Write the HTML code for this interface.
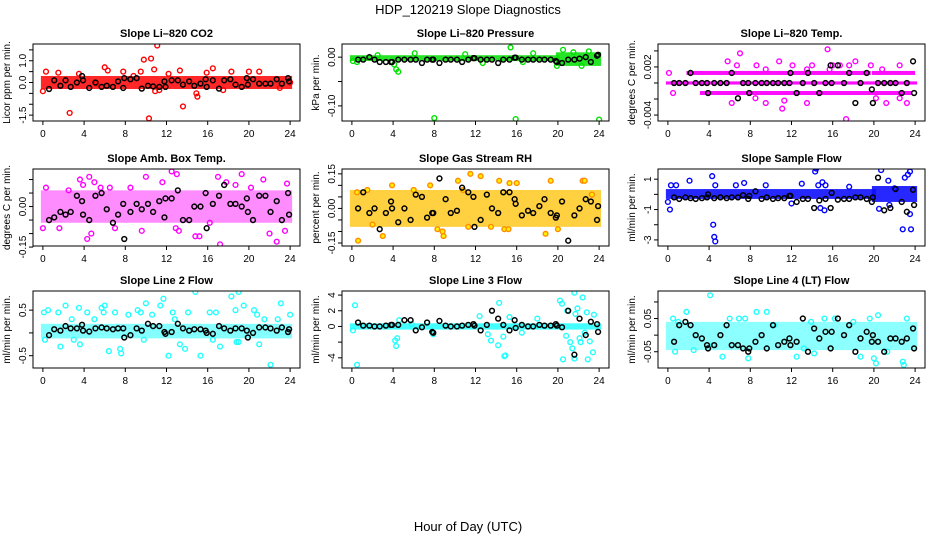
<!DOCTYPE html>
<html><head><meta charset="utf-8"><style>
html,body{margin:0;padding:0;background:#fff;}
svg{display:block;font-family:"Liberation Sans",sans-serif;}
</style></head><body>
<svg id="chart" width="936" height="540" viewBox="0 0 936 540">
<text x="468" y="14" text-anchor="middle" font-size="13">HDP_120219  Slope Diagnostics</text>
<text x="468" y="531" text-anchor="middle" font-size="13">Hour of Day (UTC)</text>
</svg>
<script>
// shared hours for black (hourly) points
const blackHours = [0.6,1.1,1.7,2.2,2.7,3.3,3.8,3.9,4.5,5.1,5.7,6.2,6.8,7.3,7.8,7.9,8.5,9.1,9.6,10.2,10.7,11.3,11.8,11.9,12.5,13.1,13.6,14.2,14.7,15.3,15.8,15.9,16.5,17.1,17.6,18.2,18.7,19.3,19.8,19.9,20.4,21.0,21.6,22.1,22.7,23.2,23.8,23.9];
const xTicks = [0,4,8,12,16,20,24];

const titles = ["Slope Li\u2013820 CO2","Slope Li\u2013820 Pressure","Slope Li\u2013820 Temp.","Slope Amb. Box Temp.","Slope Gas Stream RH","Slope Sample Flow","Slope Line 2 Flow","Slope Line 3 Flow","Slope Line 4 (LT) Flow"];
const yTitles = ["Licor ppm per min.","kPa per min.","degrees C per min.","degrees C per min.","percent per min.","ml/min per min.","ml/min per min.","ml/min per min.","ml/min per min."];
const yLims = [[-1.77,1.77],[-0.131,0.027],[-0.00474,0.00486],[-0.146,0.139],[-0.163,0.171],[-3.4,1.67],[-0.77,0.92],[-5.3,4.52],[-0.099,0.133]];
const yTicks = [[-1.5,-1,-0.5,0,0.5,1,1.5],[-0.1,-0.05,0],[-0.004,-0.002,0,0.002,0.004],[-0.15,-0.1,-0.05,0,0.05,0.1],[-0.15,-0.1,-0.05,0,0.05,0.1,0.15],[-3,-2,-1,0,1],[-0.5,0,0.5],[-4,-2,0,2,4],[-0.05,0,0.05,0.1]];
const yTickLabels = [["-1.5","","","0.0","","1.0",""],["-0.10","","0.00"],["-0.004","","","0.002",""],["-0.15","","","0.00","",""],["-0.15","","","0.00","","","0.15"],["-3","","-1","","1"],["-0.5","","0.5"],["-4","","0","2","4"],["-0.05","","0.05",""]];
const colors = ["#ff0000","#00e000","#ff00ff","#ff00ff","#ff8c00","#0000ff","#22ffff","#22ffff","#22ffff"];
const bandFill = ["#ff1010","#10e010","#ff00ff","#ff40ff","#ffc000","#1010ff","#40ffff","#30ffff","#40ffff"];
const bandOpacity = [0.9,0.9,0.95,0.6,0.75,0.9,0.65,0.9,0.6];
const bands = [
 [[0,24,-0.3,0.3]],
 [[0,20,-0.008,0.004],[20,24,-0.018,0.01]],
 [[0,24,-0.0002,0.0002],[2,19.5,0.001,0.0015],[3.3,23.5,-0.0015,-0.001],[20,23.8,0.001,0.0015]],
 [[0,24,-0.06,0.06]],
 [[0,24,-0.08,0.08]],
 [[0,20,-0.3,0.35],[20,24,-0.5,0.55]],
 [[0,24,-0.12,0.2]],
 [[0,24,-0.4,0.4]],
 [[0,24,-0.045,0.04]]
];
const colorPts = [
 [[0,-0.4],[0.3,0.5],[1.5,0.45],[2.6,-1.4],[3.5,0.4],[5.2,-0.05],[6.0,0.7],[6.3,0.55],[7.8,0.5],[8.8,0.3],[9.5,0.5],[9.8,1.05],[10.3,-1.65],[10.5,1.1],[10.8,0.6],[10.9,-0.4],[11.1,1.7],[11.3,-0.35],[12.2,0.4],[13.3,0.55],[13.6,-1.1],[14.9,-0.5],[15.0,-0.65],[15.9,0.45],[16.5,0.65],[17.5,-0.35],[18.3,0.5],[20.0,0.5],[21.0,0.5],[23.0,-0.25],[24,0.0]],
 [[0.1,-0.008],[0.5,-0.01],[4.1,-0.015],[4.3,-0.025],[4.5,-0.03],[6.1,0.008],[8.0,-0.125],[15.4,0.02],[15.9,-0.127],[17.6,0.008],[20.5,0.015],[21.5,0.01],[22.3,-0.018],[23.0,0.012],[24.0,-0.128],[2.5,0.004],[12.7,-0.012],[19.9,-0.018],[16.6,-0.01],[11,0.006]],
 [[0.1,0.00125],[5.8,0.0027],[6.7,0.0022],[7.0,0.0037],[8.6,0.0022],[9.5,0.0017],[10.8,0.0027],[12.1,0.0022],[14,0.0022],[13.5,0.0017],[15.5,0.0042],[15.7,0.0017],[16.7,0.0022],[17.6,0.0022],[18.2,0.0027],[19.7,0.0022],[20.8,0.0017],[22.5,0.0022],[11.1,-0.0032],[17.3,-0.0045],[9.5,-0.0025],[11.3,-0.0022],[21.2,-0.0025],[23.2,-0.0025],[6.2,-0.0025],[13.5,-0.0025],[16,0.0022],[0.5,-0.00125],[8.5,-0.0019],[20.2,-0.0019],[22.5,-0.0019]],
 [[0,-0.08],[0.3,0.07],[4.5,0.11],[3.6,0.1],[3.9,0.08],[5.0,0.09],[5.6,0.07],[4.3,-0.12],[4.7,-0.1],[10.0,0.11],[11.6,0.09],[12.5,0.13],[13.0,0.12],[13.2,-0.09],[12.9,-0.08],[14.8,-0.11],[15.2,-0.11],[17.2,-0.14],[17.0,0.11],[17.8,0.09],[19.3,0.12],[20.2,0.07],[21.4,0.1],[22.0,-0.1],[22.7,-0.13],[23.5,-0.09],[23.7,0.085],[7.0,-0.08],[9.6,-0.09],[1.6,-0.08],[8.5,0.07],[18.7,0.08],[2.5,0.06],[6.5,0.07],[16.2,-0.06]],
 [[0.5,0.07],[0.6,-0.14],[3.0,-0.12],[3.9,0.1],[7.6,0.1],[8.3,-0.09],[8.8,-0.1],[8.9,-0.12],[10.3,0.12],[11.3,-0.08],[11.5,0.15],[12.5,0.14],[13.5,-0.08],[14.3,0.12],[14.8,-0.09],[15.2,-0.09],[15.3,0.11],[18.8,-0.11],[19.3,0.12],[20.0,-0.09],[22.4,0.12],[22.6,0.12],[23.3,0.06],[16.0,0.11],[6.0,0.08],[1.5,0.08],[2.0,-0.07],[10.8,0.08]],
 [[0,-0.5],[0.2,-1.0],[0.3,0.6],[0.8,0.6],[2.1,0.9],[4.3,1.2],[4.4,-2.0],[4.5,-2.8],[4.6,-3.1],[4.6,0.6],[6.6,0.6],[7.4,0.75],[9.5,0.6],[13.0,0.7],[12.0,-0.6],[14.3,1.5],[14.4,1.7],[14.6,0.6],[15.0,0.8],[15.2,-1.05],[14.8,-0.9],[15.3,0.6],[20.5,-0.95],[20.7,1.6],[21.4,0.9],[21.5,-0.7],[22.0,0.4],[22.8,-2.3],[23.0,1.1],[23.3,1.3],[23.5,1.5],[23.6,-2.3],[23.5,-1.3],[17.6,0.5]],
 [[0.1,0.45],[0.2,-0.15],[0.5,0.5],[1.5,0.45],[1.7,-0.3],[2.2,0.6],[3.5,0.55],[3.6,-0.25],[4.3,0.45],[5.7,0.55],[5.9,0.45],[6.0,0.6],[6.4,-0.4],[7.0,0.45],[7.5,-0.35],[7.6,-0.45],[8.3,0.4],[9.2,0.5],[9.5,0.45],[10.0,0.65],[10.6,0.4],[11.4,0.6],[11.7,0.75],[12.2,-0.5],[12.6,0.45],[13.3,-0.25],[13.8,-0.35],[14.1,0.45],[14.8,0.9],[15.3,-0.5],[16.2,0.45],[16.8,0.45],[17.2,-0.3],[18.3,0.8],[18.7,0.5],[19.0,0.9],[19.5,0.6],[19.0,-0.2],[20.5,0.5],[20.8,0.4],[21.0,-0.25],[22.1,-0.7],[22.8,0.3],[23.1,0.65],[24.0,0.4],[2.8,0.3],[5.0,0.3],[12.8,0.3],[21.5,0.3],[3.0,-0.15],[9.8,-0.15],[16.5,-0.15],[18.8,-0.2]],
 [[0.3,2.7],[0.5,-4.9],[0.1,-0.5],[4.2,-1.8],[4.3,-2.5],[4.4,-1.5],[4.6,0.8],[5.8,0.3],[7.9,-1.0],[12.4,1.3],[13.2,-1.0],[13.5,-1.8],[14.3,3.0],[14.2,-2.4],[14.8,-3.8],[14.9,-3.7],[15.3,1.2],[14.7,-1.3],[16.5,-0.8],[20.2,3.3],[20.4,2.9],[20.5,-4.2],[20.8,-1.2],[21.2,-2.0],[21.4,-2.8],[21.6,-4.1],[21.7,1.6],[21.9,2.3],[22.1,-1.5],[22.4,3.7],[22.2,-2.0],[22.8,1.8],[22.9,-4.2],[23.1,-1.9],[23.4,-3.3],[23.5,1.5],[21.6,4.3],[20.9,2.0],[22.6,-0.8],[18.0,1.0]],
 [[0.5,0.05],[0.7,-0.05],[1.8,0.07],[4.1,0.12],[4.4,-0.03],[5.3,-0.065],[6.0,0.05],[6.9,0.05],[7.5,0.05],[7.8,-0.07],[8.6,0.07],[9.6,0.07],[10.3,0.03],[12.5,-0.065],[13.2,-0.04],[13.9,0.04],[14.2,-0.055],[16.2,0.05],[18.7,-0.065],[20.0,-0.07],[20.2,-0.085],[20.4,0.06],[21.3,-0.05],[22.8,-0.08],[22.9,-0.09],[23.2,0.05],[18.0,0.04],[19.6,0.05],[15.2,0.05],[2.5,-0.045],[1.0,0.04]]
];
const blackVals = [
 [-0.3,0.1,-0.15,0.1,-0.2,0.0,0.3,0.1,-0.25,0.0,-0.2,-0.15,-0.2,0.05,-0.25,0.2,0.15,0.2,-0.28,-0.15,-0.18,-0.2,0.05,-0.2,0.1,0.1,-0.1,0.05,-0.15,-0.05,0.15,-0.2,0.1,-0.28,0.1,0.15,-0.1,-0.2,0.2,-0.1,0.15,-0.05,-0.05,-0.05,0.15,-0.05,0.2,0.05],
 [-0.005,-0.005,0,-0.005,-0.01,-0.01,-0.01,-0.01,-0.005,-0.005,-0.005,-0.005,-0.012,-0.005,-0.005,-0.005,-0.012,-0.005,-0.005,-0.005,-0.01,-0.005,-0.002,-0.002,-0.005,-0.005,-0.005,-0.012,-0.005,-0.005,-0.001,-0.001,-0.005,-0.005,-0.005,-0.005,-0.005,-0.005,-0.008,-0.01,-0.012,-0.005,-0.005,-0.003,0.0,-0.01,0.003,0.005],
 [0,0,0,0.00125,0,0,0,-0.00125,0,0,0,0.00125,-0.0019,0,0,-0.00125,0,0,0,0,0,0,0,0.00125,-0.00125,0,0.00125,0,-0.00125,0,0.0022,0,0.0022,0,0.00125,-0.0025,0,0.00125,-0.0008,-0.0025,0,0,0,0,-0.00125,0,0.0027,-0.00125],
 [-0.05,-0.04,-0.02,-0.03,-0.02,0.04,0.02,-0.03,-0.05,0.04,0.05,-0.01,-0.06,-0.03,0.01,-0.12,-0.02,0.01,-0.01,0.01,-0.02,0.02,-0.04,0.03,0.03,0.06,-0.05,-0.05,0.0,0.0,0.05,-0.08,0.01,0.04,0.08,0.01,0.01,0.0,0.03,-0.02,-0.05,0.04,0.04,-0.02,0.02,-0.05,0.05,-0.03],
 [0.0,0.07,-0.02,0.0,-0.09,-0.02,0.03,0.0,-0.06,0.0,-0.05,0.06,0.05,-0.04,-0.02,-0.02,0.13,0.04,-0.02,-0.01,0.09,0.07,0.05,-0.08,-0.05,0.06,0.0,-0.02,0.07,0.07,0.04,0.02,-0.03,-0.01,-0.02,0.01,0.04,-0.02,-0.04,-0.03,0.03,-0.14,-0.03,0.0,0.04,0.03,-0.05,0.01],
 [-0.2,-0.3,-0.2,-0.25,-0.3,-0.25,-0.2,0.0,-0.25,-0.2,-0.25,-0.2,-0.2,-0.05,-0.3,-0.1,0.2,-0.3,-0.2,-0.3,-0.25,-0.25,-0.1,-0.1,-0.5,-0.3,-0.3,-0.9,-0.4,-0.3,-0.9,0.1,-0.35,-0.3,-0.3,-0.2,-0.2,-0.3,-0.5,-0.2,1.1,-1.05,-0.9,0.35,-0.5,-1.15,0.3,-0.7],
 [-0.05,0.08,0.05,0.15,0.1,0.1,0.18,0.05,0.03,0.1,0.12,0.1,0.08,0.1,0.1,-0.1,-0.05,0.1,0.05,0.2,0.15,0.15,0.02,-0.02,0.02,0.2,0.1,0.05,0.08,0.08,0.05,0.0,-0.02,0.15,0.1,0.05,0.1,0.1,0.05,-0.1,0.0,0.12,0.12,0.1,0.05,0.12,0.02,0.08],
 [0.5,0.1,0.1,0,0,0.1,0.2,0.2,0.2,0.8,0.8,-0.5,-0.1,0.5,-0.7,-0.8,0.7,0.1,0.0,0.0,0.1,0.2,0.3,0.1,-0.5,0.2,2.0,1.0,0.2,-0.5,0.8,-0.2,0.2,0,0,0.2,0.1,0.1,0.3,0.1,-0.1,2.0,-3.6,1.0,-1.1,0.6,0.3,-0.7],
 [-0.02,0.03,0.04,0.03,0.0,-0.01,-0.03,-0.04,-0.03,0.0,0.03,-0.03,-0.03,-0.04,-0.05,-0.04,-0.02,0.0,-0.04,0.03,-0.03,-0.02,-0.01,-0.03,-0.02,0.05,-0.05,0.02,-0.01,0.01,-0.04,0.01,0.05,0.0,0.03,-0.05,-0.01,0.01,-0.02,0.0,-0.02,-0.05,-0.01,-0.01,-0.02,-0.01,0.02,-0.04]
];

const NS = "http://www.w3.org/2000/svg";
const svg = document.getElementById('chart');
const colLeft = [33,342,658], rowTop = [44,169,291], PW = 267, PH = 77;
function mk(tag, attrs, parent){ const e=document.createElementNS(NS,tag); for(const k in attrs) e.setAttribute(k,attrs[k]); parent.appendChild(e); return e; }

for(let p=0;p<9;p++){
  const L = colLeft[p%3], T = rowTop[Math.floor(p/3)];
  const g = mk('g',{},svg);
  
  
  const xs = v => L + (v+0.96)/25.92*PW;
  const [y0,y1] = yLims[p];
  const ys = v => T + PH - (v-y0)/(y1-y0)*PH;
  const cl = mk('clipPath',{id:'c'+p},g); mk('rect',{x:L,y:T,width:PW,height:PH},cl);
  const plot = mk('g',{'clip-path':'url(#c'+p+')'},g);
  // bands of dense points
  bands[p].forEach(b=>{
    const r = mk('rect',{x:xs(b[0])-2,y:ys(b[3]),width:xs(b[1])-xs(b[0])+4,height:Math.max(3,ys(b[2])-ys(b[3])),fill:bandFill[p],'fill-opacity':bandOpacity[p]},plot);
    
    
  });
  colorPts[p].forEach(pt=>{
    const c = mk('circle',{cx:xs(pt[0]),cy:ys(pt[1]),r:2.4,fill:(p==4?'#ffee00':'none'),stroke:colors[p],'stroke-width':1.4},plot);
    
    
  });
  const n = Math.min(blackHours.length, blackVals[p].length);
  for(let i=0;i<n;i++){
    const c = mk('circle',{cx:xs(blackHours[i]),cy:ys(blackVals[p][i]),r:2.4,fill:'none',stroke:'#000','stroke-width':1.5},plot);
    
    
  }
  const box = mk('rect',{x:L,y:T,width:PW,height:PH,fill:'none',stroke:'#000','stroke-width':1},g);
  
  
  const tt = mk('text',{x:L+PW/2,y:T-7,'text-anchor':'middle','font-size':11,'font-weight':'bold'},g);
  tt.textContent = titles[p];
  
  
  // x axis
  mk('line',{x1:xs(0),x2:xs(24),y1:T+PH,y2:T+PH,stroke:'#000'},g);
  xTicks.forEach(v=>{
    mk('line',{x1:xs(v),x2:xs(v),y1:T+PH,y2:T+PH+4,stroke:'#000'},g);
    const t = mk('text',{x:xs(v),y:T+PH+16,'text-anchor':'middle','font-size':10},g);
    t.textContent = v;
    
    
  });
  // y axis
  const yt = yTicks[p];
  mk('line',{x1:L,x2:L,y1:ys(yt[0]),y2:ys(yt[yt.length-1]),stroke:'#000'},g);
  yt.forEach((v,i)=>{
    mk('line',{x1:L-4,x2:L,y1:ys(v),y2:ys(v),stroke:'#000'},g);
    if(yTickLabels[p][i]){
      const t = mk('text',{x:L-7,y:ys(v),'text-anchor':'middle','font-size':10,transform:'rotate(-90 '+(L-7)+' '+ys(v)+')'},g);
      t.textContent = yTickLabels[p][i];
      
      
    }
  });
  const ya = mk('text',{x:L-23,y:T+PH/2,'text-anchor':'middle','font-size':10,transform:'rotate(-90 '+(L-23)+' '+(T+PH/2)+')'},g);
  ya.textContent = yTitles[p];
  
  
}
</script>
</body></html>
